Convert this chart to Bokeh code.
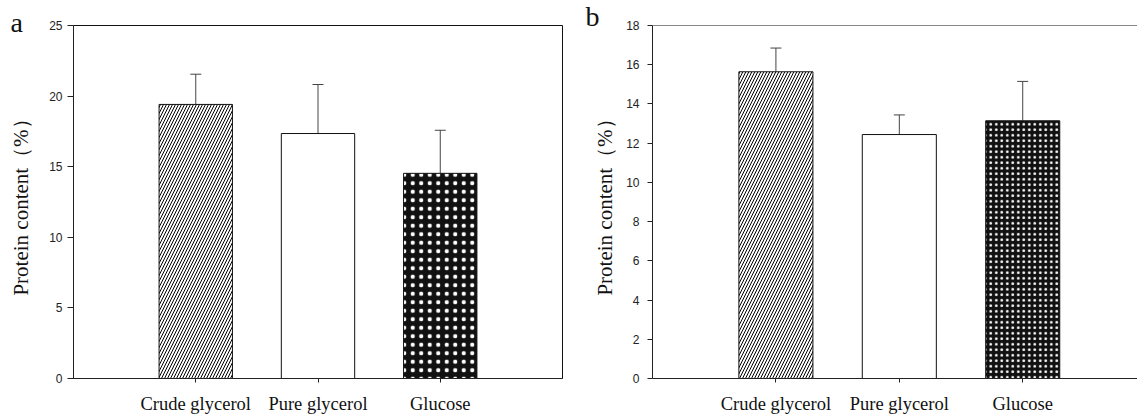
from bokeh.plotting import figure
from bokeh.layouts import row
from bokeh.models import (Range1d, FixedTicker, Whisker, TeeHead, ColumnDataSource,
                          Title, Span)
from bokeh.embed import file_html
from bokeh.resources import INLINE

# ---------------- data ----------------
categories = ["Crude glycerol", "Pure glycerol", "Glucose"]
protein_a = [19.41, 17.35, 14.53]
error_a = [2.14, 3.47, 3.05]
protein_b = [15.64, 12.44, 13.14]
error_b = [1.21, 1.00, 2.01]
yticks_a = [0, 5, 10, 15, 20, 25]
yticks_b = [0, 2, 4, 6, 8, 10, 12, 14, 16, 18]
panel_labels = ["a", "b"]
y_title = "Protein content（%）"

SERIF = "Liberation Serif"
SANS = "Liberation Sans"

bar_styles = [
    dict(fill_color="white", hatch_pattern="/", hatch_color="black", hatch_weight=1),
    dict(fill_color="white"),
    dict(fill_color="#111111", hatch_pattern=".", hatch_color="white", hatch_weight=0.3),
]


def make_panel(values, errors, yticks, label, width, border_left, border_right,
               border_top, x_end, dot_scale, full_outline, tick_out, tick_standoff,
               label_standoff, title_offset, title_standoff):
    xs = [i + 1 for i in range(len(categories))]
    p = figure(width=width, height=416, output_backend="svg", toolbar_location=None,
               x_range=Range1d(0, x_end), y_range=Range1d(yticks[0], yticks[-1]),
               min_border_left=border_left, min_border_right=border_right,
               min_border_top=border_top, min_border_bottom=37,
               background_fill_color="white", border_fill_color="white")
    p.grid.visible = False
    if full_outline:
        p.outline_line_color = "#111111"
        p.outline_line_width = 1
    else:
        p.outline_line_color = None
        p.add_layout(Span(location=yticks[-1], dimension="width",
                          line_color="#111111", line_width=1))

    p.title = Title(text=label, align="left", offset=title_offset,
                    standoff=title_standoff, text_font=SERIF,
                    text_font_style="normal", text_font_size="28px",
                    text_color="#111111")

    for i, (x, v) in enumerate(zip(xs, values)):
        st = dict(bar_styles[i])
        if st.get("hatch_pattern") == ".":
            st["hatch_scale"] = dot_scale
        elif st.get("hatch_pattern") == "/":
            st["hatch_scale"] = 6
        p.vbar(x=[x], top=[v], bottom=0, width=0.6, line_color="#111111",
               line_width=1, **st)

    src = ColumnDataSource(dict(x=xs, low=values,
                                up=[v + e for v, e in zip(values, errors)]))
    p.add_layout(Whisker(source=src, base="x", lower="low", upper="up",
                         dimension="height", line_color="#444444", line_width=1,
                         lower_head=None,
                         upper_head=TeeHead(size=11, line_color="#444444",
                                            line_width=1)))

    # y axis
    ya = p.yaxis[0]
    ya.ticker = FixedTicker(ticks=yticks)
    ya.axis_line_color = "#222222"
    ya.major_tick_line_color = "#222222"
    ya.major_tick_out = tick_out
    ya.major_tick_in = 0
    ya.minor_tick_line_color = None
    ya.major_label_text_font = SANS
    ya.major_label_text_font_size = "12px"
    ya.major_label_text_color = "#222222"
    ya.major_label_standoff = tick_standoff
    ya.axis_label = y_title
    ya.axis_label_text_font = SERIF
    ya.axis_label_text_font_style = "normal"
    ya.axis_label_text_font_size = "21px"
    ya.axis_label_text_color = "#111111"
    ya.axis_label_standoff = label_standoff

    # x axis
    xa = p.xaxis[0]
    xa.ticker = FixedTicker(ticks=xs)
    xa.major_label_overrides = {x: c for x, c in zip(xs, categories)}
    xa.axis_line_color = "#222222"
    xa.major_tick_line_color = "#222222"
    xa.major_tick_out = 4
    xa.major_tick_in = 0
    xa.minor_tick_line_color = None
    xa.major_label_text_font = SERIF
    xa.major_label_text_font_size = "18.5px"
    xa.major_label_text_color = "#111111"
    xa.major_label_standoff = 11
    return p


pa = make_panel(protein_a, error_a, yticks_a, panel_labels[0], width=575,
                border_left=73, border_right=13, border_top=24, x_end=4.0,
                dot_scale=8.5, full_outline=True, tick_out=6, tick_standoff=5,
                label_standoff=13, title_offset=-63, title_standoff=-25)
pb = make_panel(protein_b, error_b, yticks_b, panel_labels[1], width=562,
                border_left=77, border_right=0, border_top=25, x_end=3.93,
                dot_scale=5.5, full_outline=False, tick_out=5, tick_standoff=8,
                label_standoff=6, title_offset=-67, title_standoff=-13)

layout = row(pa, pb, spacing=0)
open("out.html", "w").write(file_html(layout, INLINE))
